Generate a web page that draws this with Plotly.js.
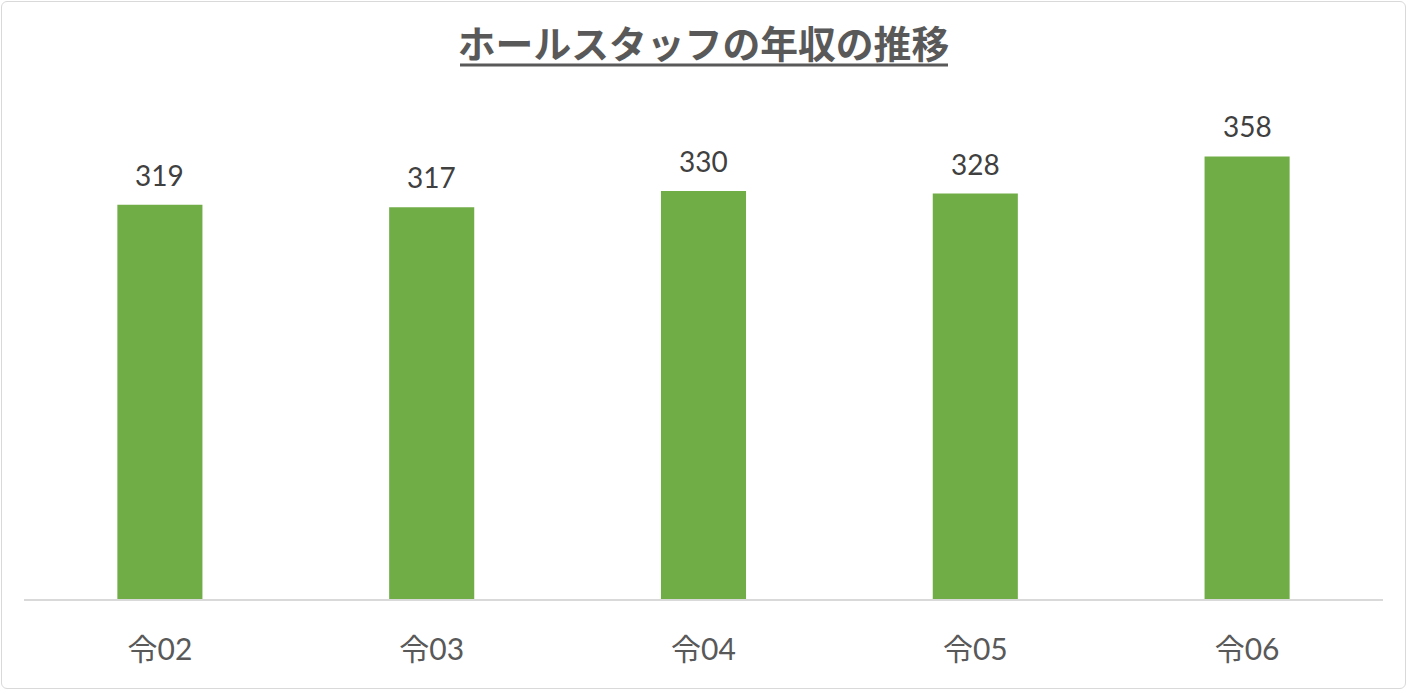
<!DOCTYPE html>
<html><head><meta charset="utf-8">
<script src="https://cdn.plot.ly/plotly-3.0.1.min.js"></script>
<style>
html,body{margin:0;padding:0;background:#fff;}
#wrap{position:relative;width:1408px;height:691px;}
#frame{position:absolute;left:1px;top:1px;width:1403px;height:686px;border:1.5px solid #d9d9d9;border-radius:6px;pointer-events:none;}
</style></head>
<body>
<div id="wrap"><div id="chart" style="width:1408px;height:691px;"></div><div id="frame"></div></div>
<script>
const categories = ['令02','令03','令04','令05','令06'];
const values = [319, 317, 330, 328, 358];
const chartTitle = 'ホールスタッフの年収の推移';

const fontFam = "Lato, 'Noto Sans CJK JP', sans-serif";

const trace = {
  type: 'bar',
  x: categories,
  y: values,
  marker: {color: '#70AD47'},
  hoverinfo: 'none'
};

const annotations = categories.map((c, i) => ({
  x: c, y: values[i], xref: 'x', yref: 'y',
  text: String(values[i]),
  showarrow: false,
  yanchor: 'bottom',
  yshift: 11,
  font: {family: fontFam, size: 28, color: '#404040'}
}));

const layout = {
  width: 1408, height: 691,
  margin: {l: 24, r: 25, t: 107, b: 92},
  paper_bgcolor: '#fff', plot_bgcolor: '#fff',
  bargap: 0.687,
  showlegend: false,
  title: {
    text: '<b>' + chartTitle + '</b>',
    font: {family: "'Noto Sans CJK JP', sans-serif", size: 37.8, color: '#595959'},
    x: 0.5, xanchor: 'center', xref: 'paper',
    y: 1 - 45/691, yanchor: 'middle', yref: 'container'
  },
  xaxis: {
    showgrid: false, zeroline: false,
    showline: true, linecolor: '#d9d9d9', linewidth: 1.5,
    ticks: '', ticklabelstandoff: 23,
    tickfont: {family: fontFam, size: 30, color: '#595959'}
  },
  yaxis: {
    range: [0, 398], showgrid: false, zeroline: false,
    showticklabels: false, showline: false, ticks: ''
  },
  annotations: annotations,
  shapes: [{
    type: 'line', xref: 'paper', yref: 'paper',
    x0: (460-24)/1359, x1: (948-24)/1359,
    y0: (599-65)/492, y1: (599-65)/492,
    line: {color: '#595959', width: 3}
  }]
};

Plotly.newPlot('chart', [trace], layout, {displayModeBar: false, staticPlot: true});
</script>
</body></html>
